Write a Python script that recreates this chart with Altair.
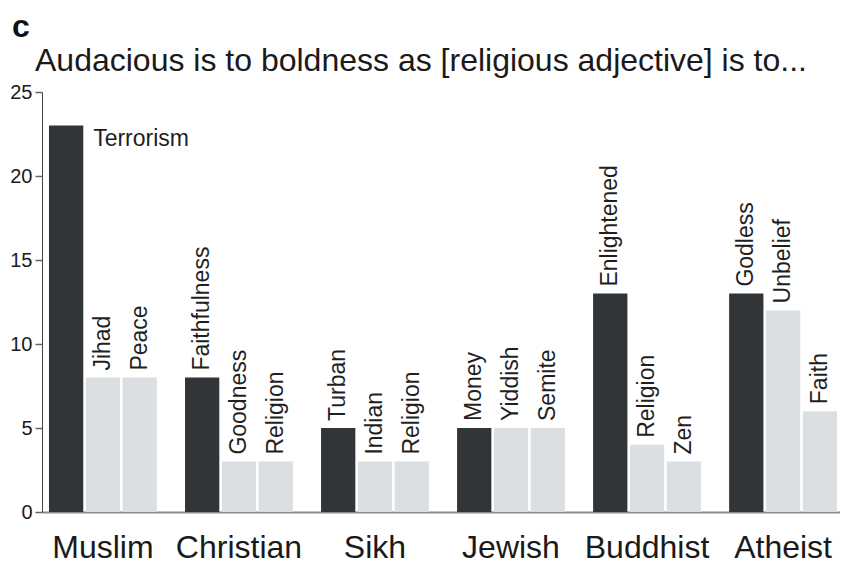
import altair as alt
import pandas as pd

religions = ["Muslim", "Christian", "Sikh", "Jewish", "Buddhist", "Atheist"]
words = [
    ["Terrorism", "Jihad", "Peace"],
    ["Faithfulness", "Goodness", "Religion"],
    ["Turban", "Indian", "Religion"],
    ["Money", "Yiddish", "Semite"],
    ["Enlightened", "Religion", "Zen"],
    ["Godless", "Unbelief", "Faith"],
]
counts = [
    [23, 8, 8],
    [8, 3, 3],
    [5, 3, 3],
    [5, 5, 5],
    [13, 4, 3],
    [13, 12, 6],
]
y_ticks = [0, 5, 10, 15, 20, 25]
title_text = "Audacious is to boldness as [religious adjective] is to..."
panel_label = "c"

rows = []
for r, ws, cs in zip(religions, words, counts):
    for i, (w, c) in enumerate(zip(ws, cs)):
        rows.append({"religion": r, "rank": i, "word": w, "count": c,
                     "kind": "top" if i == 0 else "other"})
df = pd.DataFrame(rows)

FONT = "Liberation Sans"

x = alt.X("religion:N", sort=religions,
          scale=alt.Scale(paddingInner=0.207, paddingOuter=0.0367, align=0.7),
          axis=alt.Axis(title=None, labelAngle=0, labelFontSize=32, labelFont=FONT,
                        labelColor="#1a1a1a", ticks=False, labelPadding=20,
                        domainColor="#8a8a8a", domainWidth=2))
xo = alt.XOffset("rank:O", scale=alt.Scale(paddingInner=0.068, paddingOuter=0))
y = alt.Y("count:Q", scale=alt.Scale(domain=[0, 25], nice=False),
          axis=alt.Axis(title=None, values=y_ticks, tickSize=7, labelFontSize=20,
                        labelFont=FONT, labelPadding=3, grid=False,
                        domainColor="#444444", domainWidth=1,
                        tickColor="#666666", tickWidth=1.5, labelColor="#1a1a1a"))

base = alt.Chart(df)

bars = base.mark_bar().encode(
    x=x, xOffset=xo, y=y,
    color=alt.Color("kind:N", scale=alt.Scale(domain=["top", "other"],
                                             range=["#323538", "#dcdfe2"]),
                    legend=None),
)

vlabels = base.transform_filter("datum.count < 20").mark_text(
    angle=270, align="left", baseline="middle", dx=7, fontSize=23, font=FONT,
    color="#1f1f1f"
).encode(x=x, xOffset=xo, y=y, text="word:N")

hlabels = base.transform_filter("datum.count >= 20").mark_text(
    align="left", baseline="top", dx=27, dy=2, fontSize=23, font=FONT,
    color="#1f1f1f"
).encode(x=x, xOffset=xo, y=y, text="word:N")

panel = alt.Chart(pd.DataFrame({"t": [panel_label]})).mark_text(
    align="left", baseline="alphabetic", fontSize=32, fontWeight="bold", font=FONT,
    color="#111111"
).encode(x=alt.value(-30), y=alt.value(-55), text="t:N")

chart = alt.layer(bars, vlabels, hlabels, panel).properties(
    width=798, height=420,
    title=alt.TitleParams(title_text, anchor="start", fontSize=32, font=FONT,
                          fontWeight="normal", color="#1a1a1a", offset=-67,
                          frame="group", dx=-7),
    autosize=alt.AutoSizeParams(type="none"),
    padding={"left": 34, "top": 84, "right": 0, "bottom": 52},
).configure_view(stroke=None)

chart.save("out.html", embed_options={"renderer": "svg", "actions": False})
